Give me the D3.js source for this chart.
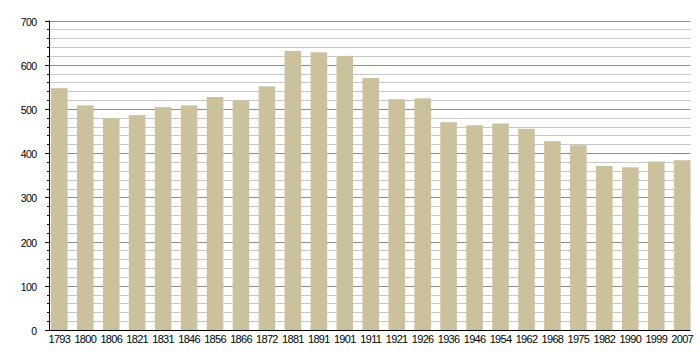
<!DOCTYPE html>
<html><head><meta charset="utf-8">
<script src="https://cdn.jsdelivr.net/npm/d3@7"></script>
<style>
html,body{margin:0;padding:0;background:#fff;}
svg{display:block;}
text{font-family:"Liberation Sans",Arial,sans-serif;fill:#000;}
</style></head>
<body>
<svg id="chart" width="700" height="360"></svg>
<script>
const years = ["1793","1800","1806","1821","1831","1846","1856","1866","1872","1881","1891","1901","1911","1921","1926","1936","1946","1954","1962","1968","1975","1982","1990","1999","2007"];
const population = [547,508,479,486,504,508,527,519,551,631,628,620,570,522,524,470,463,467,455,427,418,371,368,381,384];
const yTicks = [0,100,200,300,400,500,600,700];

const svg = d3.select("#chart");
const x0 = 49.5, x1 = 690.5, yBottom = 330, yTop = 20.5;

const x = d3.scaleBand().domain(years).range([x0 + 1.5, x1]).paddingInner(0.36).paddingOuter(0);
const y = d3.scaleLinear().domain([0, 700]).range([yBottom, yTop]);

const minor = d3.range(0, 701, 20).filter(v => v % 100 !== 0);
svg.append("g").selectAll("line").data(minor).join("line")
  .attr("x1", x0).attr("x2", x1)
  .attr("y1", d => Math.round(y(d)) + 0.5).attr("y2", d => Math.round(y(d)) + 0.5)
  .attr("stroke", "#c8c8c8").attr("stroke-width", 1);
svg.append("g").selectAll("line").data(yTicks.filter(v => v > 0)).join("line")
  .attr("x1", x0).attr("x2", x1)
  .attr("y1", d => Math.round(y(d)) + 0.5).attr("y2", d => Math.round(y(d)) + 0.5)
  .attr("stroke", "#8c8c8c").attr("stroke-width", 1);

svg.append("g").selectAll("rect").data(population).join("rect")
  .attr("x", (d, i) => x(years[i]))
  .attr("width", x.bandwidth())
  .attr("y", d => y(d))
  .attr("height", d => yBottom - y(d))
  .attr("fill", "#cbc29d");

// y axis
const yAxis = svg.append("g");
yAxis.append("line").attr("x1", x0).attr("x2", x0).attr("y1", yTop).attr("y2", yBottom).attr("stroke", "#000");
yAxis.selectAll("line.minor").data(minor).join("line").attr("class", "minor")
  .attr("x1", x0 - 2.5).attr("x2", x0).attr("y1", d => Math.round(y(d)) + 0.5).attr("y2", d => Math.round(y(d)) + 0.5)
  .attr("stroke", "#000");
yAxis.selectAll("line.major").data(yTicks).join("line").attr("class", "major")
  .attr("x1", x0 - 4.5).attr("x2", x0).attr("y1", d => Math.round(y(d)) + 0.5).attr("y2", d => Math.round(y(d)) + 0.5)
  .attr("stroke", "#000");
yAxis.selectAll("text").data(yTicks).join("text")
  .attr("x", 36.5).attr("y", d => y(d) + 5)
  .attr("text-anchor", "end").attr("font-size", 10.5).attr("letter-spacing", "-0.6px")
  .text(d => d);

// x axis
svg.append("line").attr("x1", x0 - 4.5).attr("x2", x1).attr("y1", yBottom + 0.5).attr("y2", yBottom + 0.5).attr("stroke", "#000");
svg.append("g").selectAll("text").data(years).join("text")
  .attr("x", d => x(d) + x.bandwidth() / 2)
  .attr("y", 342.5)
  .attr("text-anchor", "middle").attr("font-size", 11).attr("letter-spacing", "-0.7px")
  .text(d => d);
</script>
</body></html>
